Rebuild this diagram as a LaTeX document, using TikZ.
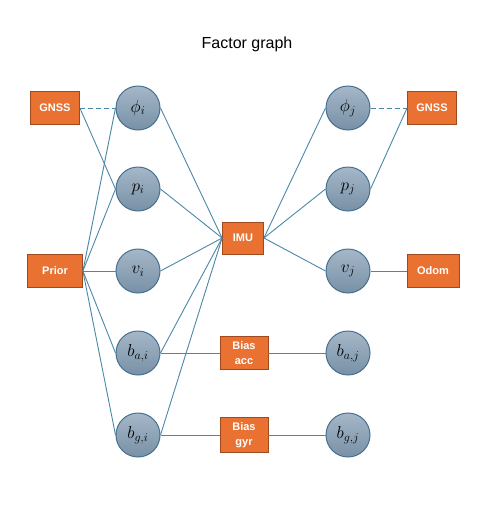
\documentclass[tikz,border=0pt]{standalone}
\usepackage{fontspec}
\setmainfont{Liberation Sans}
\usetikzlibrary{positioning}
\definecolor{facfill}{HTML}{E97132}
\definecolor{facline}{HTML}{9E4A1E}
\definecolor{vartop}{HTML}{A5B7C8}
\definecolor{varbot}{HTML}{7890A6}
\definecolor{varline}{HTML}{46718F}
\definecolor{linkcol}{HTML}{4A88A8}
\tikzset{var/.style={circle,draw=varline,line width=1pt,top color=vartop,bottom color=varbot,minimum size=44pt,inner sep=0pt,font=\fontsize{18}{20}\selectfont},
fbox/.style={draw=facline,line width=0.8pt,fill=facfill,text=white,font=\fontsize{11}{15}\selectfont\bfseries,align=center,inner sep=0pt,minimum height=33pt},
link/.style={draw=linkcol,line width=0.9pt},dsh/.style={dash pattern=on 5pt off 3pt}}
\begin{document}
\begin{tikzpicture}[x=1pt,y=-1pt]
\useasboundingbox(0,0)rectangle(493,520);
\node[font=\fontsize{16}{18}\selectfont](ttl)at(247,44){Factor graph};
% variables at time i and j
\node[var](phii)at(138,108){$\phi_i$};\node[var](phij)at(348,108){$\phi_j$};
\node[var](pi)at(138,189){$p_i$};\node[var](pj)at(348,189){$p_j$};
\node[var](vi)at(138,271){$v_i$};\node[var](vj)at(348,271){$v_j$};
\node[var](bai)at(138,353){$b_{a,i}$};\node[var](baj)at(348,353){$b_{a,j}$};
\node[var](bgi)at(138,435){$b_{g,i}$};\node[var](bgj)at(348,435){$b_{g,j}$};
% factors
\node[fbox,minimum width=49pt](gnssl)at(55,108){GNSS};\node[fbox,minimum width=49pt](gnssr)at(432,108){GNSS};
\node[fbox,minimum width=55pt](prior)at(55,271){Prior};\node[fbox,minimum width=52pt](odom)at(433,271){Odom};
\node[fbox,minimum width=41pt,minimum height=32pt](imu)at(243,238){IMU};
\node[fbox,minimum width=48pt](bacc)at(244,353){Bias\\acc};
\node[fbox,minimum width=48pt,minimum height=35pt](bgyr)at(244,435){Bias\\gyr};
% connections
\draw[link,dsh](gnssl.east)--(phii.west);\draw[link](gnssl.east)--(pi.west);
\foreach\n in{phii,pi,vi,bai,bgi}{\draw[link](prior.east)--(\n.west);\draw[link](\n.east)--(imu.west);}
\foreach\n in{phij,pj,vj}\draw[link](imu.east)--(\n.west);
\draw[link,dsh](phij.east)--(gnssr.west);\draw[link](pj.east)--(gnssr.west);\draw[link](vj)--(odom);
\draw[link](bai)--(bacc)--(baj);\draw[link](bgi)--(bgyr)--(bgj);
\end{tikzpicture}
\end{document}
